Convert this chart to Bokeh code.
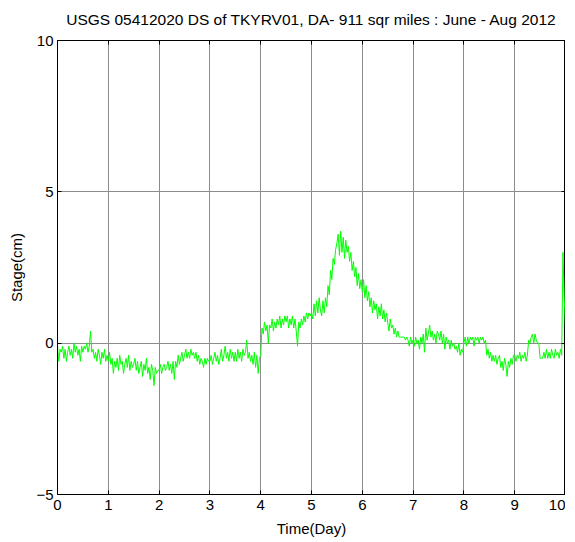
from bokeh.plotting import figure
from bokeh.models import LinearAxis, FixedTicker, Range1d, ColumnDataSource, CustomJSTickFormatter
from bokeh.embed import file_html
from bokeh.resources import INLINE

title_text = "USGS 05412020 DS of TKYRV01, DA- 911 sqr miles : June - Aug 2012"
x_label = "Time(Day)"
y_label = "Stage(cm)"
x_ticks = [0, 1, 2, 3, 4, 5, 6, 7, 8, 9, 10]
y_ticks = [-5, 0, 5, 10]
time_step_day = 0.025

stage_cm = [
    -0.1, -0.6, -0.2, -0.3, -0.1, -0.5, -0.2, -0.6, -0.3, -0.1, -0.4, -0.2, -0.5, 0.0, -0.3, -0.1, -0.4, -0.2, -0.6, -0.1,
    -0.3, -0.1, -0.2, 0.0, -0.3, -0.1, 0.4, -0.3, -0.2, -0.5, -0.3, -0.6, -0.2, -0.4, -0.7, -0.3, -0.5, -0.2, -0.6, -0.4,
    -0.6, -0.3, -0.7, -0.5, -1.0, -0.6, -0.8, -0.5, -0.9, -0.4, -0.7, -0.6, -1.0, -0.7, -0.5, -0.8, -0.4, -0.9, -0.6, -0.8,
    -0.7, -0.5, -0.9, -0.6, -1.0, -0.8, -0.6, -1.1, -0.7, -0.9, -0.5, -1.0, -0.8, -1.2, -0.7, -0.9, -1.4, -0.8, -1.0, -0.9,
    -0.9, -0.7, -1.0, -0.8, -0.7, -0.9, -0.8, -0.6, -0.9, -0.7, -1.0, -0.6, -1.2, -0.6, -0.8, -0.4, -0.7, -0.5, -0.3, -0.6,
    -0.4, -0.2, -0.5, -0.3, -0.5, -0.2, -0.4, -0.3, -0.5, -0.3, -0.6, -0.4, -0.7, -0.5, -0.6, -0.8, -0.5, -0.7, -0.5, -0.6,
    -0.6, -0.4, -0.7, -0.5, -0.3, -0.6, -0.4, -0.7, -0.5, -0.2, -0.6, -0.4, -0.1, -0.5, -0.3, -0.6, -0.2, -0.5, -0.3, -0.6,
    -0.3, -0.6, -0.2, -0.5, -0.3, -0.6, -0.2, -0.4, -0.3, 0.1, -0.5, -0.3, -0.6, -0.4, -0.7, -0.3, -0.8, -0.4, -1.0, -0.5,
    -0.4, 0.5, 0.3, 0.7, 0.4, 0.6, 0.0, 0.6, 0.5, 0.8, 0.4, 0.7, 0.5, 0.8, 0.6, 0.9, 0.5, 0.8, 0.6, 0.9,
    0.7, 0.9, 0.5, 0.8, 0.6, 0.9, 0.5, 0.8, 0.4, -0.1, 0.7, 0.5, 0.8, 0.6, 0.9, 0.7, 1.0, 0.8, 1.0, 0.9,
    1.0, 0.8, 1.3, 0.9, 1.4, 1.0, 1.5, 1.1, 0.9, 1.4, 1.0, 1.5, 1.2, 1.9, 1.6, 2.4, 2.1, 2.8, 2.6, 3.1,
    3.3, 3.6, 2.9, 3.7, 3.0, 3.5, 2.8, 3.4, 3.0, 3.2, 2.7, 3.0, 2.4, 2.7, 2.2, 2.5, 1.9, 2.3, 1.8, 2.1,
    1.7, 2.1, 1.5, 1.9, 1.4, 1.7, 1.2, 1.5, 1.0, 1.4, 1.1, 1.3, 0.8, 1.2, 0.9, 1.3, 0.8, 1.1, 0.7, 1.0,
    0.7, 0.4, 0.8, 0.5, 0.6, 0.3, 0.5, 0.2, 0.4, 0.2, 0.2, 0.2, 0.2, 0.2, 0.1, 0.2, 0.1, -0.1, 0.2, 0.0,
    0.1, -0.1, 0.2, 0.0, 0.1, -0.2, 0.2, 0.0, 0.3, -0.3, 0.5, 0.1, 0.3, 0.6, 0.2, 0.4, 0.1, 0.3, 0.0, 0.4,
    0.3, 0.1, 0.4, 0.0, 0.3, -0.2, 0.2, 0.0, 0.1, -0.2, 0.1, -0.1, 0.0, -0.2, -0.1, -0.3, 0.0, -0.4, -0.2, -0.3,
    0.0, 0.2, -0.1, 0.2, 0.0, 0.2, 0.1, 0.2, -0.1, 0.2, 0.1, 0.2, 0.0, 0.2, 0.1, 0.2, 0.0, 0.1, -0.4, -0.2,
    -0.5, -0.3, -0.6, -0.4, -0.6, -0.4, -0.7, -0.5, -0.4, -0.8, -0.6, -0.9, -0.5, -0.7, -1.1, -0.6, -0.8, -0.5, -0.7, -0.4,
    -0.4, -0.6, -0.4, -0.5, -0.3, -0.6, -0.4, -0.5, -0.3, -0.6, -0.4, 0.1, 0.0, 0.2, 0.3, 0.0, 0.3, 0.1, 0.0, 0.0,
    -0.5, -0.5, -0.5, -0.3, -0.5, -0.2, -0.5, -0.3, -0.5, -0.2, -0.4, -0.5, -0.2, -0.4, -0.3, -0.5, -0.2, -0.4, 3.0, 1.5,
    0.5,
]
time_day = [round(i * time_step_day, 4) for i in range(len(stage_cm))]

FONT = "Liberation Sans"

p = figure(frame_width=508, frame_height=454, output_backend="svg", toolbar_location=None,
           x_range=Range1d(0, 10), y_range=Range1d(-5, 10),
           min_border_left=0, min_border_right=0, min_border_top=0, min_border_bottom=0)
p.margin = (-4, 0, 0, 5)
p.background_fill_color = "white"
p.border_fill_color = "white"
p.outline_line_color = "black"
p.outline_line_width = 1

p.title.text = title_text
p.title.text_font = FONT
p.title.text_font_size = "15.5px"
p.title.text_font_style = "normal"
p.title.align = "center"
p.title.text_color = "black"
p.title.standoff = 25

src = ColumnDataSource(dict(t=time_day, s=stage_cm))
p.line("t", "s", source=src, line_color="#00ff00", line_width=1)

for ax in (p.xaxis[0], p.yaxis[0]):
    ax.major_tick_in = 4
    ax.major_tick_out = 0
    ax.minor_tick_line_color = None
    ax.axis_line_color = "black"
    ax.major_tick_line_color = "black"
    ax.major_label_text_font = FONT
    ax.major_label_text_font_size = "15px"
    ax.major_label_text_color = "black"
    ax.axis_label_text_font = FONT
    ax.axis_label_text_font_size = "15px"
    ax.axis_label_text_font_style = "normal"
    ax.axis_label_text_color = "black"

p.xaxis.ticker = FixedTicker(ticks=x_ticks)
p.yaxis.ticker = FixedTicker(ticks=y_ticks)
p.xaxis.axis_label = x_label
p.yaxis.axis_label = y_label
p.xaxis.major_label_standoff = 5
p.xaxis.axis_label_standoff = 7
p.yaxis.major_label_standoff = 4
p.yaxis.axis_label_standoff = 8

for loc, tk in (("above", x_ticks), ("right", y_ticks)):
    ax = LinearAxis(ticker=FixedTicker(ticks=tk),
                    formatter=CustomJSTickFormatter(code="return ''"),
                    major_tick_in=4, major_tick_out=0, minor_tick_line_color=None,
                    axis_line_color="black", major_label_standoff=0,
                    major_label_text_font_size="1px")
    p.add_layout(ax, loc)

p.xgrid.ticker = FixedTicker(ticks=x_ticks)
p.ygrid.ticker = FixedTicker(ticks=y_ticks)
for g in (p.xgrid[0], p.ygrid[0]):
    g.grid_line_color = "#8c8c8c"
    g.grid_line_width = 1
    g.grid_line_alpha = 1.0

html = file_html(p, INLINE)
html = html.replace("<head>", "<head><style>html, body { overflow: hidden; }</style>", 1)
open("out.html", "w").write(html)
